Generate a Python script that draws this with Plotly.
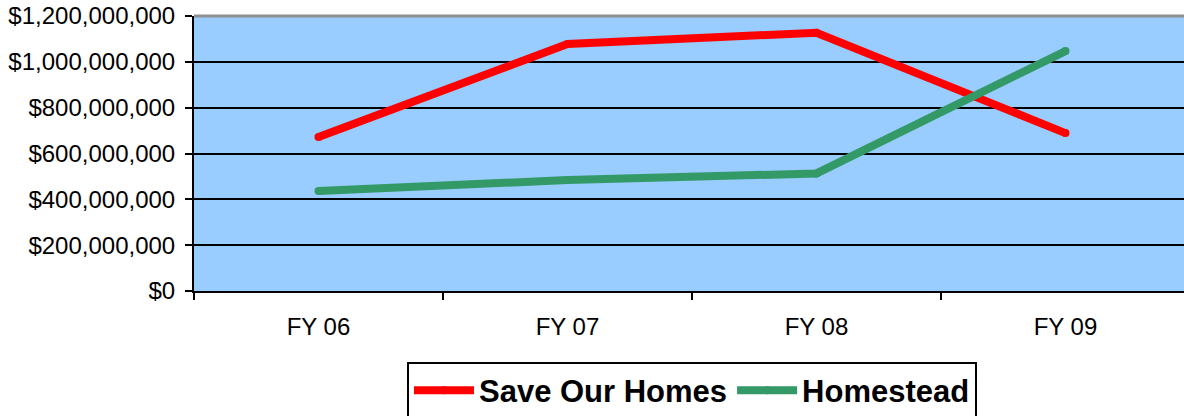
import plotly.graph_objects as go

categories = ["FY 06", "FY 07", "FY 08", "FY 09"]
save_our_homes = [672e6, 1078e6, 1127e6, 689e6]
homestead = [436e6, 484e6, 513e6, 1047e6]

FONT = "Liberation Sans, Arial, sans-serif"

fig = go.Figure()
fig.add_trace(go.Scatter(x=categories, y=save_our_homes, mode="lines+markers", name="Save Our Homes",
                         line=dict(color="#FF0000", width=8),
                         marker=dict(color="#FF0000", size=8, line=dict(width=0))))
fig.add_trace(go.Scatter(x=categories, y=homestead, mode="lines+markers", name="Homestead",
                         line=dict(color="#339966", width=8),
                         marker=dict(color="#339966", size=8, line=dict(width=0))))

fig.update_layout(
    width=1184, height=416,
    margin=dict(l=194, r=0, t=16, b=125, autoexpand=False),
    paper_bgcolor="white",
    plot_bgcolor="#99CCFF",
    font=dict(family=FONT, size=24, color="black"),
    showlegend=True,
    legend=dict(orientation="h", x=0.503, xanchor="center", y=-0.257, yanchor="top",
                bgcolor="white", bordercolor="black", borderwidth=2,
                font=dict(family=FONT, size=31, color="black", weight="bold"),
                itemwidth=60, tracegroupgap=0),
    xaxis=dict(type="category", range=[-0.5, 3.476], tickson="boundaries",
               ticks="outside", ticklen=7, tickwidth=2, tickcolor="black",
               showline=True, linecolor="black", linewidth=2,
               showgrid=False, zeroline=False, ticklabelstandoff=13,
               automargin=False,
               tickfont=dict(family=FONT, size=24, color="black")),
    yaxis=dict(range=[0, 1.2e9], dtick=2e8, tickprefix="$", tickformat=",.0f",
               ticks="outside", ticklen=7, tickwidth=2, tickcolor="black",
               showline=True, linecolor="black", linewidth=2, ticklabelstandoff=5,
               showgrid=True, gridcolor="black", gridwidth=2, zeroline=False,
               automargin=False,
               tickfont=dict(family=FONT, size=24, color="black")),
    shapes=[dict(type="line", xref="paper", yref="paper", x0=0, x1=1, y0=1, y1=1,
                 line=dict(color="#909090", width=3))],
)

fig.write_html("out.html")
